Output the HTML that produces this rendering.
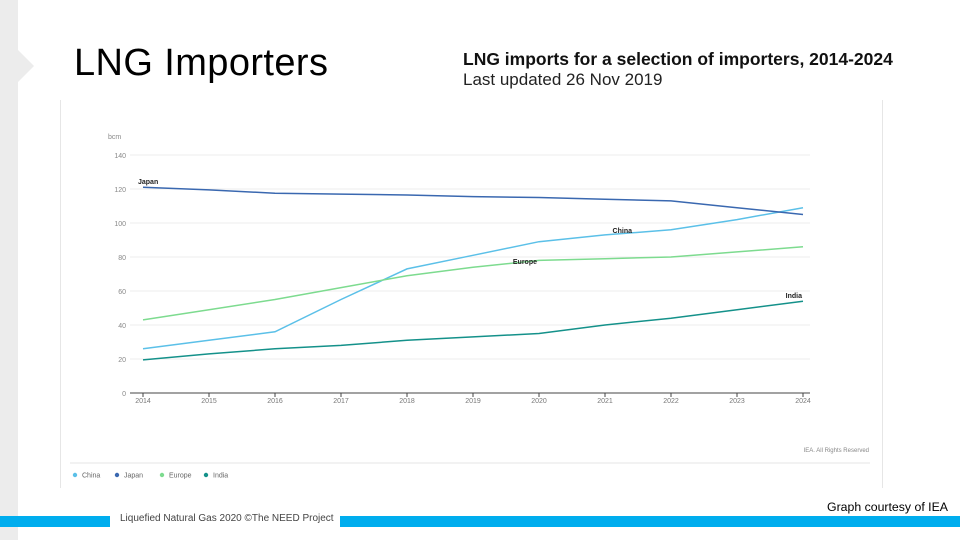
<!DOCTYPE html>
<html><head><meta charset="utf-8"><style>
body{margin:0;width:960px;height:540px;background:#fff;position:relative;overflow:hidden;font-family:"Liberation Sans",sans-serif}
.abs{position:absolute}
</style></head><body>
<div class="abs" style="left:0;top:0;width:18px;height:540px;background:#ececec"></div>
<div class="abs" style="left:18px;top:50px;width:0;height:0;border-top:16px solid transparent;border-bottom:16px solid transparent;border-left:16px solid #ececec"></div>
<div class="abs" style="left:74px;top:42px;font-size:38px;letter-spacing:0.4px;color:#000">LNG Importers</div>
<div class="abs" style="left:463px;top:49px;font-size:17.5px;font-weight:bold;color:#111">LNG imports for a selection of importers, 2014-2024</div>
<div class="abs" style="left:463px;top:70px;font-size:17px;color:#222">Last updated 26 Nov 2019</div>
<div class="abs" style="left:60px;top:100px;width:821px;height:388px;border:1px solid #e6e6e6;border-top:none;border-bottom:none;background:#fff"></div>
<svg class="abs" style="left:0;top:0" width="960" height="540">
<g id="g"></g>
</svg>
<div class="abs" style="left:0;top:516px;width:110px;height:11px;background:#00adee"></div>
<div class="abs" style="left:340px;top:516px;width:620px;height:11px;background:#00adee"></div>
<div class="abs" style="left:120px;top:513px;font-size:10px;color:#444">Liquefied Natural Gas 2020 ©The NEED Project</div>
<div class="abs" style="left:827px;top:500px;font-size:12.3px;color:#000">Graph courtesy of IEA</div>
<script>
const years=[2014,2015,2016,2017,2018,2019,2020,2021,2022,2023,2024];
const yTicks=[0,20,40,60,80,100,120,140];
const china=[26,31,36,55,73,81,89,93,96,102,109];
const japan=[121,119.5,117.5,117,116.5,115.5,115,114,113,109,105];
const europe=[43,49,55,62,69,74,78,79,80,83,86];
const india=[19.5,23,26,28,31,33,35,40,44,49,54];
const NS='http://www.w3.org/2000/svg';
const g=document.getElementById('g');
const X=i=>143+(803-143)*(years[i]-2014)/(2024-2014);
const Y=v=>393-v*1.7;
function el(t,a,p){const e=document.createElementNS(NS,t);for(const k in a)e.setAttribute(k,a[k]);(p||g).appendChild(e);return e;}
yTicks.forEach(v=>{
 if(v>0){const l=el('line',{x1:130,x2:810,y1:Y(v),y2:Y(v),stroke:'#eeeeee','stroke-width':1});
 
 }
 const t=el('text',{x:126,y:Y(v)+3,'font-size':7,fill:'#888','text-anchor':'end'});t.textContent=v;
 
 
});
const u=el('text',{x:108,y:139,'font-size':7,fill:'#888'});u.textContent='bcm';


const ax=el('line',{x1:130,x2:810,y1:393,y2:393,stroke:'#444','stroke-width':1});


years.forEach((yr,i)=>{
 const tk=el('line',{x1:X(i),x2:X(i),y1:393,y2:397,stroke:'#444'});
 
 
 const t=el('text',{x:X(i),y:403,'font-size':7,fill:'#777','text-anchor':'middle'});t.textContent=yr;
 
 
});
const series=[['china',china,'#5bc0e8'],['japan',japan,'#3a68b0'],['europe',europe,'#7ddb8f'],['india',india,'#14918a']];
series.forEach(([n,d,c])=>{
 const p=el('polyline',{points:d.map((v,i)=>X(i)+','+Y(v)).join(' '),fill:'none',stroke:c,'stroke-width':1.5});
 
 
});
const labs=[['Japan',138,japan[0]+2,'start'],['China',632,china[7]+1,'end'],['Europe',537,europe[6]-2,'end'],['India',802,india[10]+2,'end']];
labs.forEach(([t,x,v,a])=>{
 const e=el('text',{x:x,y:Y(v),'font-size':7,'font-weight':'bold',fill:'#222','text-anchor':a});e.textContent=t;
 
 
});
const r=el('text',{x:869,y:452,'font-size':6,fill:'#888','text-anchor':'end'});r.textContent='IEA. All Rights Reserved';


const sep=el('line',{x1:70,x2:870,y1:463,y2:463,stroke:'#e4e4e4'});


const lx=[75,117,162,206];
series.forEach(([n,d,c],i)=>{
 const gg=el('g',{});
 
 
 el('circle',{cx:lx[i],cy:475,r:2.2,fill:c},gg);
 const t=el('text',{x:lx[i]+7,y:477.5,'font-size':7,fill:'#666'},gg);
 t.textContent=n.charAt(0).toUpperCase()+n.slice(1);
});
</script>
</body></html>
